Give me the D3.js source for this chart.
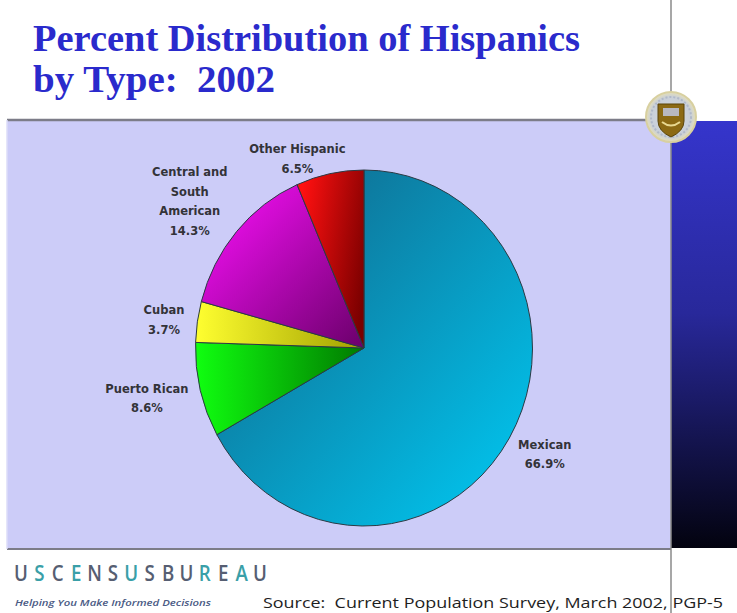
<!DOCTYPE html>
<html>
<head>
<meta charset="utf-8">
<script src="https://cdn.jsdelivr.net/npm/d3@7"></script>
<style>
  html, body { margin: 0; padding: 0; background: #ffffff; }
  svg { display: block; }
</style>
</head>
<body>
<div id="chart"></div>
<script>
// ---- Data ----
const categories = ["Mexican", "Puerto Rican", "Cuban", "Central and South American", "Other Hispanic"];
const values = [66.9, 8.6, 3.7, 14.3, 6.5];
const labelLines = [
  ["Mexican", "66.9%"],
  ["Puerto Rican", "8.6%"],
  ["Cuban", "3.7%"],
  ["Central and", "South", "American", "14.3%"],
  ["Other Hispanic", "6.5%"]
];
const titleLines = ["Percent Distribution of Hispanics", "by Type:  2002"];
const brandLetters = ["U","S","C","E","N","S","U","S","B","U","R","E","A","U"];
const brandTeal = [false,true,false,true,false,false,true,false,false,false,true,false,true,false];
const tagline = "Helping You Make Informed Decisions";
const sourceText = "Source:  Current Population Survey, March 2002, PGP-5";

// ---- Layout / style ----
const W = 737, H = 613;
const svg = d3.select("#chart").append("svg").attr("width", W).attr("height", H);
const defs = svg.append("defs");

// slice gradients: [x1,y1,x2,y2, colorStart, colorEnd]
const sliceGrad = {
  "Mexican": [0, 0, 1, 1, "#125f82", "#00ccf6"],
  "Puerto Rican": [0, 0.5, 1, 0.5, "#10ff10", "#007a00"],
  "Cuban": [0, 0.5, 1, 0.5, "#ffff30", "#a0a000"],
  "Central and South American": [0, 0, 1, 1, "#ff10ff", "#6a006a"],
  "Other Hispanic": [0, 0.3, 1, 0.7, "#ff1010", "#7a0000"]
};
categories.forEach((c, i) => {
  const g = sliceGrad[c];
  const lg = defs.append("linearGradient").attr("id", "g" + i)
    .attr("x1", g[0]).attr("y1", g[1]).attr("x2", g[2]).attr("y2", g[3]);
  lg.append("stop").attr("offset", "0%").attr("stop-color", g[4]);
  lg.append("stop").attr("offset", "100%").attr("stop-color", g[5]);
});
const barGrad = defs.append("linearGradient").attr("id", "bar").attr("x1", 0).attr("y1", 0).attr("x2", 0).attr("y2", 1);
barGrad.append("stop").attr("offset", "0%").attr("stop-color", "#3535cc");
barGrad.append("stop").attr("offset", "45%").attr("stop-color", "#28289a");
barGrad.append("stop").attr("offset", "100%").attr("stop-color", "#03030f");
const sealGrad = defs.append("radialGradient").attr("id", "seal");
sealGrad.append("stop").attr("offset", "0%").attr("stop-color", "#d8dce0");
sealGrad.append("stop").attr("offset", "80%").attr("stop-color", "#c8cfd8");
sealGrad.append("stop").attr("offset", "100%").attr("stop-color", "#e6dfb8");

// title
svg.selectAll("text.title").data(titleLines).join("text")
  .attr("class", "title")
  .attr("x", 33)
  .attr("y", (d, i) => 51 + i * 41)
  .attr("font-family", "Liberation Serif, Times New Roman, serif")
  .attr("font-weight", "bold")
  .attr("font-size", 37)
  .attr("fill", "#2a2acc")
  .attr("textLength", (d, i) => i === 0 ? 547 : 242)
  .attr("lengthAdjust", "spacingAndGlyphs")
  .style("white-space", "pre")
  .text(d => d);

// panel
const panel = {x: 7, y: 120, w: 664, h: 429};
svg.append("rect").attr("x", panel.x).attr("y", panel.y).attr("width", panel.w).attr("height", panel.h)
  .attr("fill", "#ccccf8");
svg.append("line").attr("x1", panel.x).attr("x2", panel.x + panel.w).attr("y1", panel.y).attr("y2", panel.y)
  .attr("stroke", "#7c7c88").attr("stroke-width", 2.5);
svg.append("line").attr("x1", panel.x).attr("x2", panel.x + panel.w).attr("y1", panel.y + panel.h).attr("y2", panel.y + panel.h)
  .attr("stroke", "#7c7c88").attr("stroke-width", 2);
svg.append("line").attr("x1", panel.x).attr("x2", panel.x).attr("y1", panel.y).attr("y2", panel.y + panel.h)
  .attr("stroke", "#dcdcf8").attr("stroke-width", 1.5);

// right bar
svg.append("rect").attr("x", 671).attr("y", 121).attr("width", W - 671).attr("height", 427).attr("fill", "url(#bar)");
// vertical rule
svg.append("line").attr("x1", 671).attr("x2", 671).attr("y1", 0).attr("y2", H)
  .attr("stroke", "#8a8a8a").attr("stroke-width", 1.5);

// seal
const seal = svg.append("g").attr("transform", "translate(671,117)");
seal.append("circle").attr("r", 25).attr("fill", "url(#seal)").attr("stroke", "#d8d0a0").attr("stroke-width", 2);
seal.append("circle").attr("r", 20).attr("fill", "none").attr("stroke", "#b0b8c8").attr("stroke-width", 2).attr("stroke-dasharray", "2 2");
seal.append("path").attr("d", "M-13,-13 L13,-13 L13,4 Q13,14 0,20 Q-13,14 -13,4 Z")
  .attr("fill", "#8c6a14").attr("stroke", "#5a4408").attr("stroke-width", 1);
seal.append("rect").attr("x", -8).attr("y", -9).attr("width", 16).attr("height", 8).attr("fill", "#b8b8c0");
seal.append("path").attr("d", "M-9,5 Q0,12 9,5").attr("fill", "none").attr("stroke", "#e8d890").attr("stroke-width", 2);

// pie
const cx = 364, cy = 348, rx = 168.5, ry = 178;
const pie = d3.pie().sort(null).value(d => d.v).startAngle(0).endAngle(2 * Math.PI);
const data = categories.map((c, i) => ({c, v: values[i], lines: labelLines[i], i}));
const arcs = pie(data);
const arc = d3.arc().innerRadius(0).outerRadius(rx);
const pg = svg.append("g").attr("transform", `translate(${cx},${cy}) scale(1,${ry / rx})`);
pg.selectAll("path").data(arcs).join("path")
  .attr("d", arc)
  .attr("fill", d => `url(#g${d.data.i})`)
  .attr("stroke", "#2a3a44")
  .attr("stroke-width", 1)
  .attr("vector-effect", "non-scaling-stroke");

// labels: radial placement + small nudges [factor, dx, dy]
const labelPlace = {
  "Mexican": [1.23, 2, -4.5],
  "Puerto Rican": [1.32, -1, -5],
  "Cuban": [1.2, 0, 3.5],
  "Central and South American": [1.32, -6, 7],
  "Other Hispanic": [1.13, -28, 8]
};
const lineH = 19.5;
const lg = svg.append("g");
arcs.forEach(a => {
  const mid = (a.startAngle + a.endAngle) / 2;
  const [f, dx, dy] = labelPlace[a.data.c];
  const lx = cx + Math.sin(mid) * rx * f + dx;
  const ly = cy - Math.cos(mid) * ry * f + dy;
  const n = a.data.lines.length;
  lg.append("text")
    .attr("text-anchor", "middle")
    .attr("font-family", "DejaVu Sans, Verdana, sans-serif")
    .attr("font-weight", "bold")
    .attr("font-size", 11.5)
    .attr("fill", "#333338")
    .selectAll("tspan").data(a.data.lines).join("tspan")
    .attr("x", lx)
    .attr("y", (d, j) => ly - (n - 1) * lineH / 2 + j * lineH + 4)
    .text(d => d);
});

// footer brand
const bx = d3.scalePoint().domain(d3.range(brandLetters.length)).range([21, 260]);
svg.append("g").selectAll("text").data(brandLetters).join("text")
  .attr("x", (d, i) => bx(i))
  .attr("y", 581)
  .attr("text-anchor", "middle")
  .attr("font-family", "Open Sans, Liberation Sans, sans-serif")
  .attr("font-weight", 600)
  .attr("font-size", 22)
  .attr("fill", (d, i) => brandTeal[i] ? "#3a9fa8" : "#565e72")
  .attr("transform", (d, i) => `translate(${bx(i)},0) scale(0.85,1) translate(${-bx(i)},0)`)
  .text(d => d);
svg.append("text").attr("x", 15).attr("y", 606)
  .attr("font-family", "Open Sans, Liberation Sans, sans-serif")
  .attr("font-style", "italic")
  .attr("font-weight", 600)
  .attr("font-size", 9.5)
  .attr("fill", "#4a5a84")
  .attr("textLength", 196).attr("lengthAdjust", "spacingAndGlyphs")
  .text(tagline);
svg.append("text").attr("x", 263).attr("y", 608)
  .attr("font-family", "Open Sans, Liberation Sans, sans-serif")
  .attr("font-size", 15)
  .attr("fill", "#1e1e1e")
  .attr("textLength", 460).attr("lengthAdjust", "spacingAndGlyphs")
  .style("white-space", "pre")
  .text(sourceText);
</script>
</body>
</html>
